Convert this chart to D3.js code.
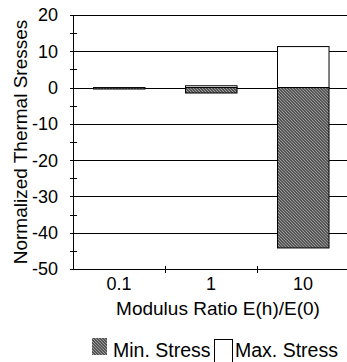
<!DOCTYPE html>
<html>
<head>
<meta charset="utf-8">
<script src="https://cdn.jsdelivr.net/npm/d3@7"></script>
<style>
  body { margin: 0; background: #fff; }
  text { font-family: "Liberation Sans", Arial, sans-serif; fill: #000; }
</style>
</head>
<body>
<script>
var width = 347,
    height = 362;

// data
var ratios = ["0.1", "1", "10"];
var minStress = [-0.4, -1.5, -44.2];
var maxStress = [0, 0.5, 11.3];
var yTicks = [20, 10, 0, -10, -20, -30, -40, -50];
var minorTicks = [15, 5, -5, -15, -25, -35, -45];

var plotLeft = 73, plotRight = 349, plotTop = 15, plotBottom = 269;

var x = d3.scaleBand()
    .domain(ratios)
    .range([plotLeft, plotRight]);

var y = d3.scaleLinear()
    .domain([-50, 20])
    .range([plotBottom, plotTop]);

var svg = d3.select("body").append("svg")
    .attr("width", width)
    .attr("height", height);

// hatch pattern (fine diagonal texture)
var defs = svg.append("defs");
var pat = defs.append("pattern")
    .attr("id", "hatch")
    .attr("patternUnits", "userSpaceOnUse")
    .attr("width", 3)
    .attr("height", 3);
pat.append("rect").attr("width", 3).attr("height", 3).attr("fill", "#555");
pat.append("path")
    .attr("d", "M0,0 L3,3 M-1,2 L1,4 M2,-1 L4,1")
    .attr("stroke", "#a4a4a4")
    .attr("stroke-width", 0.9);

// gridlines
svg.selectAll(".grid")
    .data(yTicks)
    .enter().append("line")
    .attr("class", "grid")
    .attr("x1", plotLeft)
    .attr("x2", plotRight)
    .attr("y1", function (d) { return Math.round(y(d)) + 0.5; })
    .attr("y2", function (d) { return Math.round(y(d)) + 0.5; })
    .attr("stroke", "#000")
    .attr("stroke-width", 1);

// bars
var barW = x.bandwidth() * 0.56;
var bars = svg.selectAll(".bar")
    .data(ratios)
    .enter().append("g");

bars.append("rect")
    .attr("x", function (d) { return Math.round(x(d) + (x.bandwidth() - barW) / 2) + 0.5; })
    .attr("y", function (d, i) { return y(maxStress[i]); })
    .attr("width", barW)
    .attr("height", function (d, i) { return y(0) - y(maxStress[i]); })
    .attr("fill", "#fff")
    .attr("stroke", "#000");

bars.append("rect")
    .attr("x", function (d) { return Math.round(x(d) + (x.bandwidth() - barW) / 2) + 0.5; })
    .attr("y", y(0))
    .attr("width", barW)
    .attr("height", function (d, i) { return y(minStress[i]) - y(0); })
    .attr("fill", "url(#hatch)")
    .attr("stroke", "#000");

// y axis
svg.append("line")
    .attr("x1", plotLeft + 0.5).attr("x2", plotLeft + 0.5)
    .attr("y1", plotTop).attr("y2", plotBottom + 0.5)
    .attr("stroke", "#000");

svg.selectAll(".ytick")
    .data(yTicks.concat(minorTicks))
    .enter().append("line")
    .attr("x1", plotLeft - 3).attr("x2", plotLeft + 4)
    .attr("y1", function (d) { return Math.round(y(d)) + 0.5; })
    .attr("y2", function (d) { return Math.round(y(d)) + 0.5; })
    .attr("stroke", "#000");

svg.selectAll(".ylabel")
    .data(yTicks)
    .enter().append("text")
    .attr("x", 58)
    .attr("y", function (d) { return y(d); })
    .attr("dy", "0.36em")
    .attr("text-anchor", "end")
    .style("font-size", "18px")
    .text(function (d) { return d; });

// x axis ticks at band edges
svg.selectAll(".xtick")
    .data(ratios.slice(1))
    .enter().append("line")
    .attr("x1", function (d) { return Math.round(x(d)) + 0.5; })
    .attr("x2", function (d) { return Math.round(x(d)) + 0.5; })
    .attr("y1", plotBottom - 3).attr("y2", plotBottom + 4)
    .attr("stroke", "#000");

svg.selectAll(".xlabel")
    .data(ratios)
    .enter().append("text")
    .attr("x", function (d) { return x(d) + x.bandwidth() / 2; })
    .attr("y", 289.5)
    .attr("text-anchor", "middle")
    .style("font-size", "18px")
    .text(function (d) { return d; });

svg.append("text")
    .attr("x", 218)
    .attr("y", 315)
    .attr("text-anchor", "middle")
    .style("font-size", "19px")
    .text("Modulus Ratio E(h)/E(0)");

svg.append("text")
    .attr("transform", "translate(27,142) rotate(-90)")
    .attr("text-anchor", "middle")
    .style("font-size", "19px")
    .text("Normalized Thermal Sresses");

// legend
svg.append("rect")
    .attr("x", 92).attr("y", 338)
    .attr("width", 15).attr("height", 17)
    .attr("fill", "url(#hatch)");
svg.append("text")
    .attr("x", 113).attr("y", 357)
    .style("font-size", "19.5px")
    .text("Min. Stress");
svg.append("rect")
    .attr("x", 214.5).attr("y", 339.5)
    .attr("width", 18).attr("height", 24)
    .attr("fill", "#fff")
    .attr("stroke", "#000");
svg.append("text")
    .attr("x", 235).attr("y", 357)
    .style("font-size", "19.5px")
    .text("Max. Stress");
</script>
</body>
</html>
